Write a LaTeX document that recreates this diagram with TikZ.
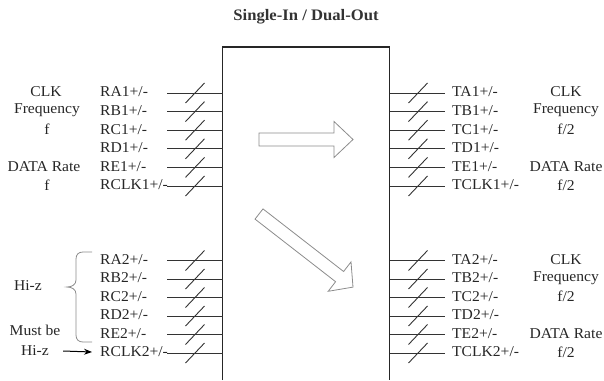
\documentclass[tikz,border=0pt]{standalone}
\usepackage{fontspec}
\setmainfont{Liberation Serif}
\usetikzlibrary{arrows.meta}
\newcommand\hs[1]{\scalebox{1.04}[1]{#1}}
\begin{document}
\begin{tikzpicture}[x=1pt,y=-1pt,
  lbl/.style={font=\fontsize{15}{17}\selectfont, text=black!85, inner sep=0pt},
  ttl/.style={font=\fontsize{16}{18}\selectfont\bfseries, text=black!80, inner sep=0pt},
  sig/.style={draw=black!80, line width=0.9pt},
  blk/.style={draw=black!45, line width=0.8pt, fill=white, line join=miter},
  boxline/.style={draw=black!85, line width=1.2pt},
  brc/.style={draw=black!45, line width=0.8pt},
  ptr/.style={draw=black, line width=1pt, -{Stealth[length=8pt,width=6pt]}}]
\useasboundingbox (0,0) rectangle (604,380);
\node[ttl] (title) at (306,17) {\hs{Single-In / Dual-Out}};
% box (open at the bottom)
\coordinate (bl) at (222.7,380);
\coordinate (tl) at (222.7,47);
\coordinate (tr) at (389.5,47);
\coordinate (br) at (389.5,380);
\draw[boxline] (bl) -- (tl) -- (tr) -- (br);
% signal rows
\foreach \y/\r/\t [count=\i] in {93/RA1/TA1, 111.6/RB1/TB1, 130.2/RC1/TC1, 148.8/RD1/TD1, 167.4/RE1/TE1, 186/RCLK1/TCLK1, 260.5/RA2/TA2, 279/RB2/TB2, 297.5/RC2/TC2, 316/RD2/TD2, 334.5/RE2/TE2, 353/RCLK2/TCLK2} {
  \coordinate (li\i) at (167,\y);
  \coordinate (lb\i) at (222.7,\y);
  \coordinate (rb\i) at (389.5,\y);
  \coordinate (ro\i) at (445,\y);
  \draw[sig] (li\i) -- (lb\i);
  \draw[sig] (rb\i) -- (ro\i);
  \draw[sig] (185.5,\y+10) -- (204.5,\y-10);
  \draw[sig] (408.5,\y+10) -- (427.5,\y-10);
  \node[lbl, anchor=west] (rl\i) at (100,\y-1) {\hs{\r+/-}};
  \node[lbl, anchor=west] (tl\i) at (452,\y-1) {\hs{\t+/-}};
}
% left annotations, top group
\node[lbl] (lclk1) at (46,92) {\hs{CLK}};
\node[lbl] (lfrq1) at (47,110.6) {\hs{Frequency}};
\node[lbl] (lf1) at (47,129.2) {\hs{f}};
\node[lbl] (ldr1) at (44,166.4) {\hs{DATA Rate}};
\node[lbl] (lf1b) at (47,185) {\hs{f}};
% right annotations, top group
\node[lbl] (rclk1) at (566,92) {\hs{CLK}};
\node[lbl] (rfrq1) at (566,110.6) {\hs{Frequency}};
\node[lbl] (rf1) at (566,129.2) {\hs{f/2}};
\node[lbl] (rdr1) at (566,166.4) {\hs{DATA Rate}};
\node[lbl] (rf1b) at (566,185) {\hs{f/2}};
% right annotations, bottom group
\node[lbl] (rclk2) at (566,259.5) {\hs{CLK}};
\node[lbl] (rfrq2) at (566,278) {\hs{Frequency}};
\node[lbl] (rf2) at (566,296.5) {\hs{f/2}};
\node[lbl] (rdr2) at (566,333.5) {\hs{DATA Rate}};
\node[lbl] (rf2b) at (566,352) {\hs{f/2}};
% left annotations, bottom group
\node[lbl] (hiza) at (28,286) {\hs{Hi-z}};
\node[lbl] (mustbe) at (35,330) {\hs{Must be}};
\node[lbl] (hizb) at (35,351) {\hs{Hi-z}};
\draw[brc] (92,252) -- (83,252) .. controls (78.5,252) and (76,254.5) .. (76,259)
  -- (76,280) .. controls (76,284.5) and (72,287) .. (67,287)
  .. controls (72,287) and (76,289.5) .. (76,294)
  -- (76,335) .. controls (76,339.5) and (78.5,342) .. (83,342) -- (92,342);
\draw[ptr] ([xshift=14pt]hizb.east) -- ([xshift=-8pt]rl12.west);
% block arrows inside the box
\draw[blk] (259,133) -- (334,133) -- (334,121.5) -- (353,139.5) -- (334,157.5)
  -- (334,146) -- (259,146) -- cycle;
\draw[blk] (263.0,208.9) -- (343.6,271.5) -- (351.0,261.9) -- (353.0,287.1)
  -- (328.2,291.3) -- (335.6,281.7) -- (255.0,219.1) -- cycle;
\end{tikzpicture}
\end{document}
